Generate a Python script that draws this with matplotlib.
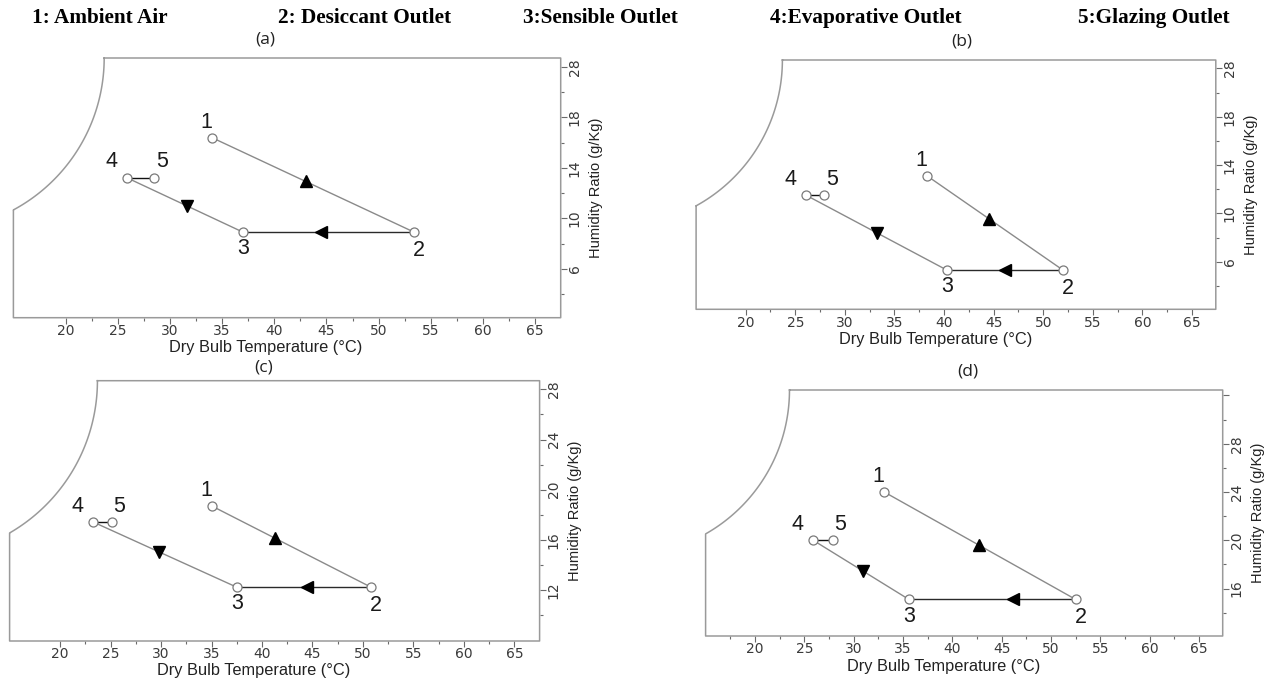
import numpy as np
import matplotlib.pyplot as plt

W_PX, H_PX = 1266, 682

headers = ["1: Ambient Air", "2: Desiccant Outlet", "3:Sensible Outlet",
           "4:Evaporative Outlet", "5:Glazing Outlet"]
header_x = [32, 278, 523, 770, 1078]
point_names = ["1", "2", "3", "4", "5"]

# state points 1..5 (dry bulb temp, humidity ratio)
temp_a = [34.0, 53.4, 37.0, 25.9, 28.5]
hum_a = [16.4, 8.9, 8.9, 13.2, 13.2]
temp_b = [38.3, 52.0, 40.3, 26.1, 27.9]
hum_b = [13.1, 5.3, 5.3, 11.5, 11.5]
temp_c = [35.0, 50.8, 37.5, 23.3, 25.1]
hum_c = [18.7, 12.2, 12.2, 17.4, 17.4]
temp_d = [33.1, 52.5, 35.6, 25.9, 27.9]
hum_d = [24.0, 15.1, 15.1, 20.0, 20.0]

# x position of the direction triangles on segments 1-2, 2-3, 3-4
arrow_a = [43.0, 44.5, 31.6]
arrow_b = [44.5, 46.1, 33.2]
arrow_c = [41.3, 44.5, 29.8]
arrow_d = [42.7, 46.2, 31.0]

# humidity axis ticks (a and b are printed with a jump 18 -> 28)
yt_ab = [6, 10, 14, 18, 22]
yl_ab = ["6", "10", "14", "18", "28"]
yt_c = [12, 16, 20, 24, 28]
yl_c = ["12", "16", "20", "24", "28"]
yt_d = [16, 20, 24, 28, 32]
yl_d = ["16", "20", "24", "28", ""]

xticks = list(range(20, 70, 5))

panels = [
    dict(tag="(a)", temp=temp_a, hum=hum_a, arrows=arrow_a, yt=yt_ab, yl=yl_ab,
         ym=[4, 8, 12, 16, 20], box=(13.4, 58, 560.7, 317.7), xlim=(15, 67.45),
         ylim=(2.12, 22.7), corner=23.7, tag_xy=(265, 40), x0minor=22.5),
    dict(tag="(b)", temp=temp_b, hum=hum_b, arrows=arrow_b, yt=yt_ab, yl=yl_ab,
         ym=[4, 8, 12, 16, 20], box=(696.1, 60, 1215.8, 309.3), xlim=(15, 67.4),
         ylim=(2.06, 22.7), corner=23.7, tag_xy=(962, 41), x0minor=22.5),
    dict(tag="(c)", temp=temp_c, hum=hum_c, arrows=arrow_c, yt=yt_c, yl=yl_c,
         ym=[10, 14, 18, 22, 26], box=(9.6, 380.7, 539.6, 641), xlim=(15, 67.5),
         ylim=(7.9, 28.7), corner=23.7, tag_xy=(264, 367), x0minor=22.5),
    dict(tag="(d)", temp=temp_d, hum=hum_d, arrows=arrow_d, yt=yt_d, yl=yl_d,
         ym=[14, 18, 22, 26, 30], box=(705.6, 390, 1222.7, 636), xlim=(15, 67.4),
         ylim=(12.07, 32.45), corner=23.5, tag_xy=(968, 372), x0minor=17.5),
]

FRAME = "#9a9a9a"
TICK = "#6a6a6a"
TXT = "#3a3a3a"
label_off = [(-4, 11), (3.5, -13), (0, -12), (-11.5, 11.5), (5.5, 11.5)]

fig = plt.figure(figsize=(W_PX / 100, H_PX / 100), dpi=100)
fig.patch.set_facecolor("white")

for name, hx in zip(headers, header_x):
    fig.text(hx / W_PX, 1 - 18 / H_PX, name, family="Liberation Serif",
             weight="bold", fontsize=15.3, ha="left", va="center", color="black")

for p in panels:
    L, T, R, B = p["box"]
    ax = fig.add_axes([L / W_PX, 1 - B / H_PX, (R - L) / W_PX, (B - T) / H_PX])
    ax.set_xlim(*p["xlim"])
    ax.set_ylim(*p["ylim"])
    for s in ax.spines.values():
        s.set_visible(False)

    # frame with the rounded cut on the upper left
    wpx, hpx = R - L, B - T
    cx_frac = (p["corner"] - p["xlim"][0]) / (p["xlim"][1] - p["xlim"][0])
    wc = cx_frac * wpx
    yb = 0.415 * hpx
    h = hpx - yb
    rad = (wc ** 2 + h ** 2) / (2 * wc)
    ccx = wc - rad
    th_end = np.arccos(-ccx / rad)
    th = np.linspace(th_end, 0, 80)
    arc_x = (ccx + rad * np.cos(th)) / wpx
    arc_y = (hpx - rad * np.sin(th)) / hpx
    fx = np.concatenate([[cx_frac, 1, 1, 0, 0], arc_x])
    fy = np.concatenate([[1, 1, 0, 0, yb / hpx], arc_y])
    ax.plot(fx, fy, transform=ax.transAxes, color=FRAME, lw=1.1, clip_on=False)

    t, hm = p["temp"], p["hum"]
    ax.plot(t[0:2], hm[0:2], color="#8a8a8a", lw=1.0, zorder=2)
    ax.plot(t[1:3], hm[1:3], color="#2a2a2a", lw=1.0, zorder=2)
    ax.plot(t[2:4], hm[2:4], color="#8a8a8a", lw=1.0, zorder=2)
    ax.plot(t[3:5], hm[3:5], color="#111111", lw=1.0, zorder=2)

    for (i, j), xa, mk in zip([(0, 1), (1, 2), (2, 3)], p["arrows"], ["^", "<", "v"]):
        frac = (xa - t[i]) / (t[j] - t[i])
        ya = hm[i] + frac * (hm[j] - hm[i])
        ax.plot([xa], [ya], marker=mk, color="black", ms=8.5, zorder=3)

    ax.plot(t, hm, "o", mfc="white", mec="#7a7a7a", ms=6.5, mew=0.9, zorder=4)

    for k, nm in enumerate(point_names):
        ax.annotate(nm, (t[k], hm[k]), xytext=label_off[k], textcoords="offset points",
                    ha="center", va="center", fontsize=15.5, family="Liberation Sans",
                    color="#1a1a1a")

    ax.set_xticks(xticks)
    ax.set_xticks(np.arange(p["x0minor"], 65, 5), minor=True)
    ax.set_xticklabels([str(v) for v in xticks])
    ax.yaxis.tick_right()
    ax.set_yticks(p["yt"])
    ax.set_yticklabels(p["yl"])
    ax.set_yticks(p["ym"], minor=True)
    ax.tick_params(axis="both", which="major", length=4, width=0.8, color=TICK,
                   labelsize=10, labelcolor=TXT)
    ax.tick_params(axis="both", which="minor", length=2.5, width=0.8, color=TICK)
    ax.tick_params(axis="x", pad=0.5)
    ax.tick_params(axis="y", pad=1)
    for lab in ax.get_yticklabels():
        lab.set_rotation(90)
        lab.set_va("center")

    ax.set_xlabel("Dry Bulb Temperature (°C)", fontsize=11.8, family="Liberation Sans",
                  color="#222222")
    ax.xaxis.label.set_va("center")
    ax.xaxis.set_label_coords(0.461, -30 / hpx)
    ax.yaxis.set_label_position("right")
    ax.set_ylabel("Humidity Ratio (g/Kg)", fontsize=10.5, family="Liberation Sans",
                  color="#222222", rotation=90)
    ax.yaxis.label.set_va("center")
    ax.yaxis.set_label_coords(1 + 35 / wpx, 0.5)

    fig.text(p["tag_xy"][0] / W_PX, 1 - p["tag_xy"][1] / H_PX, p["tag"],
             family="Open Sans", fontsize=12.5, ha="center", va="center", color="#222222")

fig.savefig("out.png", dpi=100)
